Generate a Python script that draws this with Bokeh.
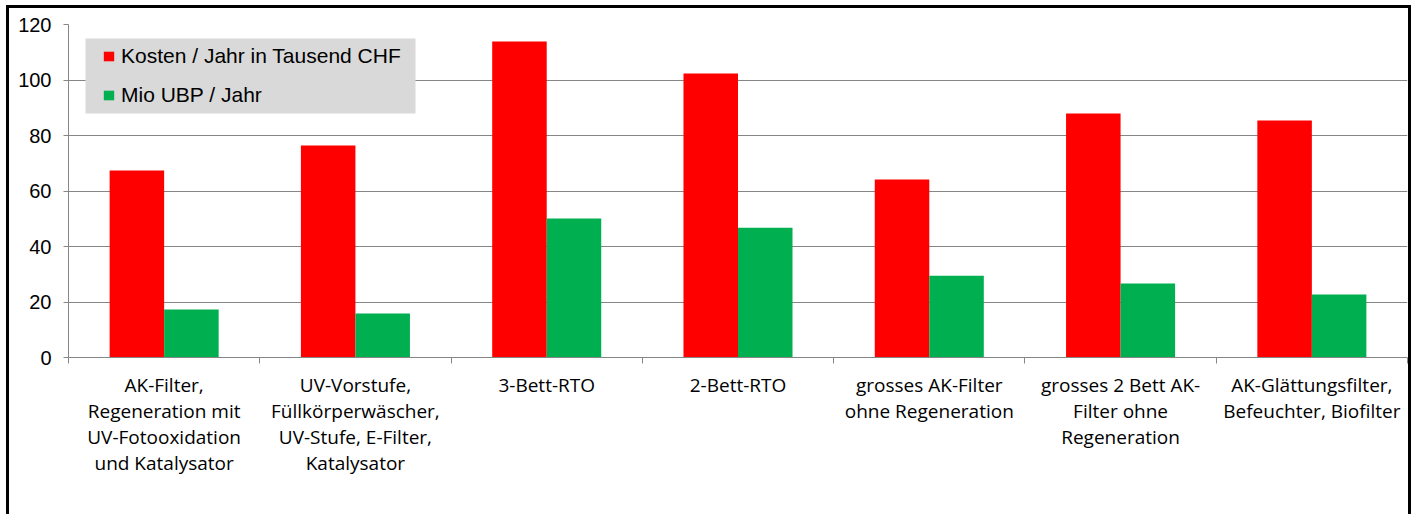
from bokeh.plotting import figure
from bokeh.models import Range1d, FixedTicker, Legend, LegendItem, ColumnDataSource, BoxAnnotation
from bokeh.embed import file_html
from bokeh.resources import INLINE

categories = [
    "AK-Filter,\nRegeneration mit\nUV-Fotooxidation\nund Katalysator",
    "UV-Vorstufe,\nFüllkörperwäscher,\nUV-Stufe, E-Filter,\nKatalysator",
    "3-Bett-RTO",
    "2-Bett-RTO",
    "grosses AK-Filter\nohne Regeneration",
    "grosses 2 Bett AK-\nFilter ohne\nRegeneration",
    "AK-Glättungsfilter,\nBefeuchter, Biofilter",
]
kosten = [67.4, 76.4, 113.9, 102.3, 64.1, 87.9, 85.4]
ubp = [17.3, 15.9, 50.1, 46.8, 29.5, 26.7, 22.7]
series_names = ["Kosten / Jahr in Tausend CHF", "Mio UBP / Jahr"]
y_ticks = [0, 20, 40, 60, 80, 100, 120]

n = len(categories)
centers = [i + 0.5 for i in range(n)]
bw = 0.285

src = ColumnDataSource(dict(
    xr=[c - bw / 2 for c in centers],
    xg=[c + bw / 2 for c in centers],
    kosten=kosten,
    ubp=ubp,
))

p = figure(width=1405, height=509, x_range=Range1d(0, n), y_range=Range1d(0, 120),
           output_backend="svg", toolbar_location=None,
           min_border_left=59, min_border_right=7, min_border_top=16, min_border_bottom=160)
p.styles = {"margin-left": "6px", "margin-top": "5px",
            "border-top": "3px solid black", "border-left": "3px solid black",
            "border-right": "3px solid black"}
p.outline_line_color = None
p.background_fill_color = "white"
p.border_fill_color = "white"

r1 = p.vbar(x="xr", top="kosten", width=bw, source=src, fill_color="#FF0000", line_color=None)
r2 = p.vbar(x="xg", top="ubp", width=bw, source=src, fill_color="#00B050", line_color=None)

grid_col = "#868686"
p.xgrid.grid_line_color = None
p.ygrid.grid_line_color = grid_col
p.ygrid.ticker = FixedTicker(ticks=y_ticks)

xa = p.xaxis[0]
xa.ticker = FixedTicker(ticks=centers, minor_ticks=list(range(n + 1)))
xa.major_label_overrides = {c: lab for c, lab in zip(centers, categories)}
xa.major_tick_line_color = None
xa.major_tick_out = 6
xa.major_tick_in = 0
xa.minor_tick_out = 6
xa.minor_tick_in = 0
xa.minor_tick_line_color = grid_col
xa.axis_line_color = grid_col
xa.major_label_text_font = "Open Sans"
xa.major_label_text_font_size = "19px"
xa.major_label_text_color = "black"
xa.major_label_text_line_height = 1.0
xa.major_label_standoff = 8

ya = p.yaxis[0]
ya.ticker = FixedTicker(ticks=y_ticks)
ya.major_tick_out = 5
ya.major_tick_in = 0
ya.minor_tick_line_color = None
ya.major_tick_line_color = grid_col
ya.axis_line_color = grid_col
ya.major_label_text_font = "Liberation Sans"
ya.major_label_text_font_size = "20px"
ya.major_label_text_color = "black"
ya.major_label_standoff = 12

legend_box = BoxAnnotation(left=17, right=347, bottom=244, top=319,
                           left_units="screen", right_units="screen",
                           top_units="screen", bottom_units="screen",
                           fill_color="#D9D9D9", fill_alpha=1, line_color=None)
p.add_layout(legend_box)

legend = Legend(items=[LegendItem(label=series_names[0], renderers=[r1]),
                       LegendItem(label=series_names[1], renderers=[r2])],
                location=(34, 250), orientation="vertical")
legend.background_fill_alpha = 0
legend.border_line_color = None
legend.label_text_font = "Liberation Sans"
legend.label_text_font_size = "21px"
legend.label_text_color = "black"
legend.glyph_width = 13
legend.glyph_height = 12
legend.label_standoff = 6
legend.spacing = 15
legend.padding = 0
legend.margin = 0
legend.label_height = 23
p.add_layout(legend)

open("out.html", "w").write(file_html(p, INLINE))
